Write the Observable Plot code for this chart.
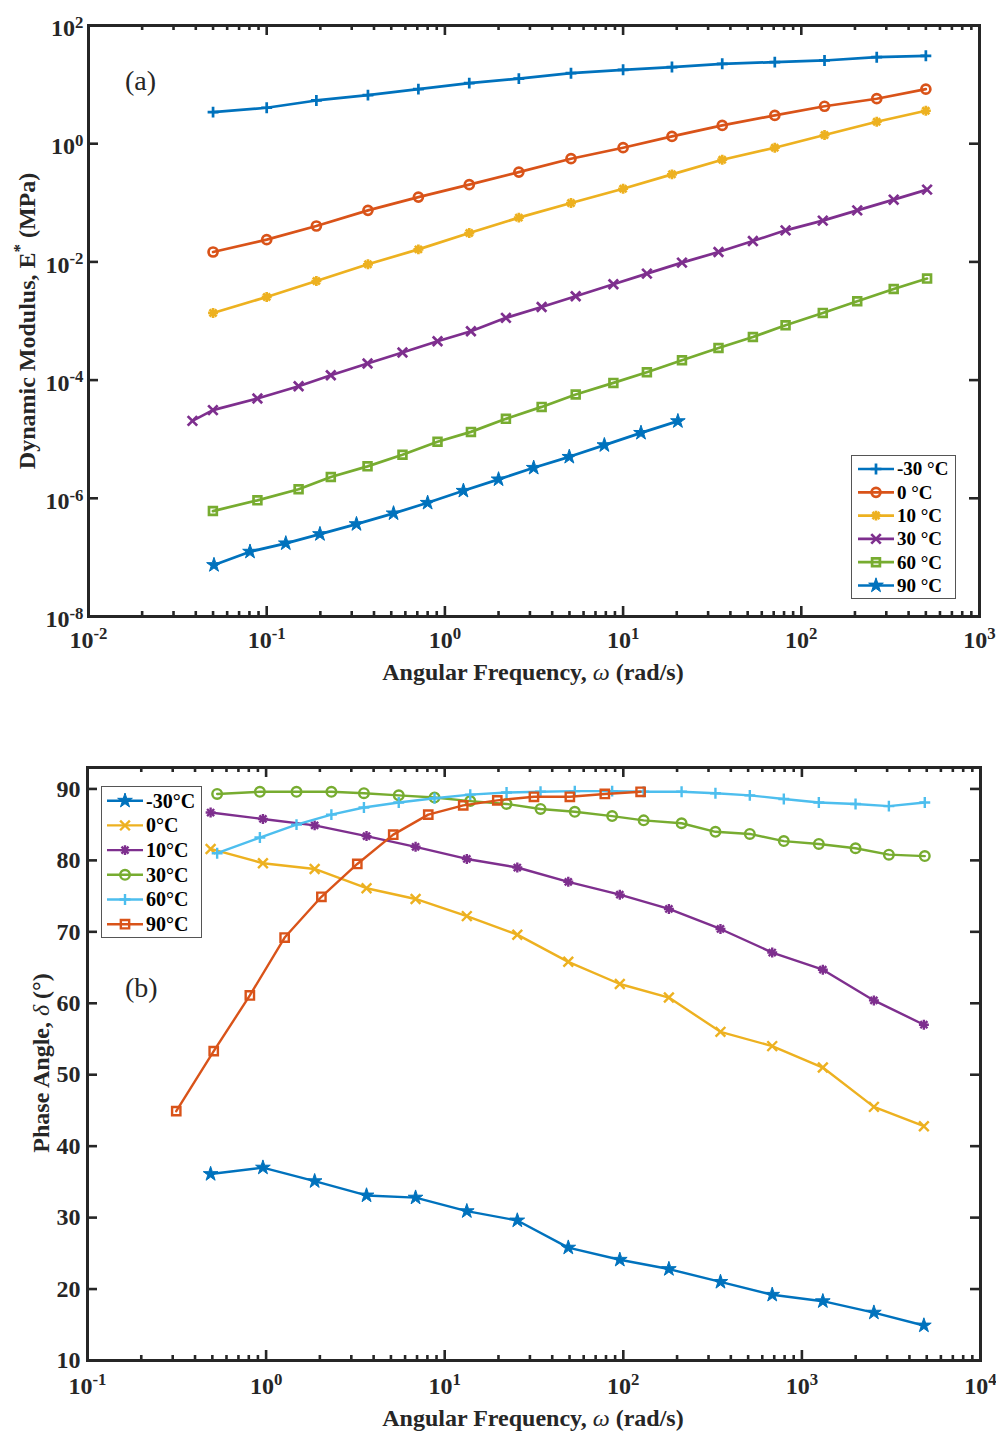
<!DOCTYPE html>
<html><head><meta charset="utf-8">
<script src="https://cdn.jsdelivr.net/npm/d3@7"></script>
<script src="https://cdn.jsdelivr.net/npm/@observablehq/plot@0.6"></script>
<style>
body{margin:0;background:#fff;}
#wrap{position:relative;width:996px;height:1437px;overflow:hidden;font-family:'Liberation Serif','Times New Roman',Times,serif;color:#262626;}
.title{position:absolute;font-weight:bold;font-size:24px;white-space:nowrap;transform:translate(-50%,-50%);}
.vtitle{position:absolute;font-weight:bold;font-size:24px;white-space:nowrap;transform:translate(-50%,-50%) rotate(-90deg);}
.title i,.vtitle i{font-weight:normal;}
.vtitle sup{font-size:70%;line-height:0;vertical-align:0.55em;}
.tag{position:absolute;font-size:28px;transform:translate(0,-50%);white-space:nowrap;}
</style></head><body><div id="wrap"></div>
<script>
// ---------- Panel (a): Dynamic modulus E* (MPa) vs angular frequency (rad/s)
const freqA = [0.05, 0.1, 0.19, 0.37, 0.71, 1.37, 2.6, 5.1, 10, 18.8, 36, 71, 135, 265, 500];
const modA_m30 = [3.42, 4.06, 5.39, 6.63, 8.38, 10.6, 12.6, 15.6, 17.8, 19.8, 22.5, 24.0, 25.6, 29.1, 30.7];
const modA_0 = [0.0147, 0.0238, 0.0405, 0.0745, 0.125, 0.203, 0.331, 0.557, 0.855, 1.33, 2.04, 3.01, 4.30, 5.77, 8.38];
const modA_10 = [0.00137, 0.00255, 0.00475, 0.0091, 0.0163, 0.0308, 0.0561, 0.099, 0.173, 0.303, 0.536, 0.855, 1.40, 2.35, 3.61];
const freqA_30 = [0.0383, 0.0499, 0.0887, 0.151, 0.229, 0.368, 0.578, 0.909, 1.40, 2.20, 3.49, 5.42, 8.82, 13.6, 21.4, 34.3, 53.5, 81.6, 132, 206, 330, 508];
const modA_30 = [2.04e-5, 3.10e-5, 4.89e-5, 7.89e-5, 1.21e-4, 1.91e-4, 2.93e-4, 4.55e-4, 6.71e-4, 1.13e-3, 1.73e-3, 2.62e-3, 4.18e-3, 6.34e-3, 9.73e-3, 0.0147, 0.0225, 0.0342, 0.0499, 0.0745, 0.113, 0.167];
const freqA_60 = [0.0499, 0.0887, 0.151, 0.229, 0.368, 0.578, 0.909, 1.40, 2.20, 3.49, 5.42, 8.82, 13.6, 21.4, 34.3, 53.5, 81.6, 132, 206, 330, 508];
const modA_60 = [6.08e-7, 9.23e-7, 1.42e-6, 2.29e-6, 3.47e-6, 5.45e-6, 9.03e-6, 1.33e-5, 2.21e-5, 3.52e-5, 5.71e-5, 8.97e-5, 1.36e-4, 2.17e-4, 3.50e-4, 5.37e-4, 8.47e-4, 1.37e-3, 2.16e-3, 3.48e-3, 5.22e-3];
const freqA_90 = [0.0506, 0.0806, 0.128, 0.199, 0.319, 0.515, 0.80, 1.27, 2.0, 3.15, 4.99, 7.85, 12.6, 20.3];
const modA_90 = [7.43e-8, 1.25e-7, 1.73e-7, 2.48e-7, 3.66e-7, 5.56e-7, 8.39e-7, 1.34e-6, 2.09e-6, 3.28e-6, 5.03e-6, 7.93e-6, 1.28e-5, 2.02e-5];
const labelsA = ["-30 °C", "0 °C", "10 °C", "30 °C", "60 °C", "90 °C"];
const xTicksA = [1e-2, 1e-1, 1e0, 1e1, 1e2, 1e3];
const yTicksA = [1e-8, 1e-6, 1e-4, 1e-2, 1e0, 1e2];

// ---------- Panel (b): Phase angle (deg) vs angular frequency (rad/s)
const freqB = [0.489, 0.96, 1.87, 3.65, 6.87, 13.3, 25.5, 49.2, 95.6, 180, 350, 682, 1310, 2530, 4820];
const phB_m30 = [36.1, 37.0, 35.1, 33.1, 32.8, 30.9, 29.6, 25.8, 24.1, 22.8, 21.0, 19.2, 18.3, 16.7, 14.9];
const phB_0 = [81.6, 79.6, 78.8, 76.1, 74.6, 72.2, 69.6, 65.8, 62.7, 60.8, 56.0, 54.0, 51.0, 45.5, 42.8];
const phB_10 = [86.7, 85.8, 84.9, 83.4, 81.9, 80.2, 79.0, 77.0, 75.2, 73.2, 70.4, 67.1, 64.7, 60.4, 57.0];
const freqB_30 = [0.532, 0.923, 1.48, 2.32, 3.53, 5.53, 8.77, 13.9, 22.2, 34.4, 53.5, 86.6, 130, 212, 328, 511, 792, 1244, 1997, 3069, 4876];
const phB_30 = [89.3, 89.6, 89.6, 89.6, 89.4, 89.1, 88.8, 88.3, 87.9, 87.2, 86.8, 86.2, 85.6, 85.2, 84.0, 83.7, 82.7, 82.3, 81.7, 80.8, 80.6];
const freqB_60 = [0.532, 0.923, 1.48, 2.32, 3.53, 5.53, 8.77, 13.9, 22.2, 34.4, 53.5, 86.6, 130, 212, 328, 511, 792, 1244, 1997, 3069, 4876];
const phB_60 = [81.0, 83.2, 85.0, 86.4, 87.4, 88.1, 88.7, 89.2, 89.5, 89.6, 89.7, 89.7, 89.6, 89.6, 89.4, 89.1, 88.6, 88.1, 87.9, 87.6, 88.1];
const freqB_90 = [0.314, 0.509, 0.811, 1.27, 2.04, 3.24, 5.15, 8.09, 12.7, 19.7, 31.6, 50.2, 78.8, 125];
const phB_90 = [44.9, 53.3, 61.1, 69.2, 74.9, 79.5, 83.6, 86.4, 87.7, 88.4, 88.9, 88.9, 89.3, 89.6];
const labelsB = ["-30°C", "0°C", "10°C", "30°C", "60°C", "90°C"];
const xTicksB = [1e-1, 1e0, 1e1, 1e2, 1e3, 1e4];
const yTicksB = [10, 20, 30, 40, 50, 60, 70, 80, 90];

// ---------- styling
const FONT = "'Liberation Serif','Times New Roman',Times,serif";
const INK = "#262626";
const COL = {blue: "#0072BD", orange: "#D95319", yellow: "#EDB120", purple: "#7E2F8E", green: "#77AC30", cyan: "#4DBEEE"};
const W = 996;

const seriesA = [
  {label: labelsA[0], x: freqA, y: modA_m30, color: COL.blue, sym: ["plus"], r: 3.6},
  {label: labelsA[1], x: freqA, y: modA_0, color: COL.orange, sym: ["circle"], r: 4.5},
  {label: labelsA[2], x: freqA, y: modA_10, color: COL.yellow, sym: ["plus", "times"], r: 3.3},
  {label: labelsA[3], x: freqA_30, y: modA_30, color: COL.purple, sym: ["times"], r: 4.4},
  {label: labelsA[4], x: freqA_60, y: modA_60, color: COL.green, sym: ["square"], r: 4.4},
  {label: labelsA[5], x: freqA_90, y: modA_90, color: COL.blue, sym: ["star"], r: 4.6, filled: true}
];
const seriesB = [
  {label: labelsB[0], x: freqB, y: phB_m30, color: COL.blue, sym: ["star"], r: 4.6, filled: true},
  {label: labelsB[1], x: freqB, y: phB_0, color: COL.yellow, sym: ["times"], r: 4.5},
  {label: labelsB[2], x: freqB, y: phB_10, color: COL.purple, sym: ["plus", "times"], r: 3.3},
  {label: labelsB[3], x: freqB_30, y: phB_30, color: COL.green, sym: ["circle"], r: 4.8},
  {label: labelsB[4], x: freqB_60, y: phB_60, color: COL.cyan, sym: ["plus"], r: 3.6},
  {label: labelsB[5], x: freqB_90, y: phB_90, color: COL.orange, sym: ["square"], r: 4.7}
];

function seriesMarks(s, sw) {
  const data = s.x.map((x, i) => ({x, y: s.y[i]}));
  const marks = [Plot.line(data, {x: "x", y: "y", stroke: s.color, strokeWidth: sw})];
  for (const sym of s.sym) {
    marks.push(Plot.dot(data, {
      x: "x", y: "y", symbol: sym, r: s.r, stroke: s.color,
      strokeWidth: s.filled ? 1 : sw, fill: s.filled ? s.color : "none"
    }));
  }
  return marks;
}

function minorLog(majors) {
  const out = [];
  for (let i = 0; i < majors.length - 1; i++) for (let m = 2; m < 10; m++) out.push(m * majors[i]);
  return out;
}

function frameTicks(xMajor, xMinor, yMajor, pw, ph) {
  const st = {stroke: INK, strokeWidth: 2.6};
  return [
    Plot.tickX(xMajor, {x: d => d, insetTop: ph - 10, ...st}),
    Plot.tickX(xMajor, {x: d => d, insetBottom: ph - 10, ...st}),
    Plot.tickX(xMinor, {x: d => d, insetTop: ph - 5, ...st}),
    Plot.tickX(xMinor, {x: d => d, insetBottom: ph - 5, ...st}),
    Plot.tickY(yMajor, {y: d => d, insetRight: pw - 10, ...st}),
    Plot.tickY(yMajor, {y: d => d, insetLeft: pw - 10, ...st})
  ];
}

const pow10 = d => "10^" + Math.round(Math.log10(d));

function supify(svg) {
  d3.select(svg).selectAll('g[aria-label$="tick label"] text').each(function () {
    const t = this.textContent;
    const m = t.match(/^10\^(.*)$/);
    if (m) {
      const sel = d3.select(this);
      sel.text(null);
      sel.append("tspan").text("10");
      sel.append("tspan").attr("dy", "-0.5em").attr("font-size", "0.7em").text(m[1]);
    }
  });
}

const ML = 88, MR = 17;
const pw = W - ML - MR;

// Panel (a)
const HA = 700, MTA = 25, MBA = 84;
const phA = HA - MTA - MBA;
const plotA = Plot.plot({
  width: W, height: HA, marginLeft: ML, marginRight: MR, marginTop: MTA, marginBottom: MBA,
  style: {fontFamily: FONT, fontSize: "24px", fontWeight: "bold", color: INK, background: "transparent", overflow: "visible"},
  x: {type: "log", domain: [1e-2, 1e3]},
  y: {type: "log", domain: [1e-8, 1e2]},
  marks: [
    ...seriesA.flatMap(s => seriesMarks(s, 2.7)),
    ...frameTicks(xTicksA, minorLog(xTicksA), yTicksA, pw, phA),
    Plot.axisX({ticks: xTicksA, tickSize: 0, tickPadding: 14, tickFormat: pow10, label: null}),
    Plot.axisY({ticks: yTicksA, tickSize: 0, tickPadding: 5, tickFormat: pow10, label: null, dy: 3}),
    Plot.frame({stroke: INK, strokeWidth: 3})
  ]
});
supify(plotA);

// Panel (b)
const HB = 737, MTB = 67, MBB = 77;
const phBh = HB - MTB - MBB;
const plotB = Plot.plot({
  width: W, height: HB, marginLeft: ML - 1, marginRight: MR - 1, marginTop: MTB, marginBottom: MBB,
  style: {fontFamily: FONT, fontSize: "24px", fontWeight: "bold", color: INK, background: "transparent", overflow: "visible"},
  x: {type: "log", domain: [1e-1, 1e4]},
  y: {type: "linear", domain: [10, 93]},
  marks: [
    ...seriesB.flatMap(s => seriesMarks(s, 2.4)),
    ...frameTicks(xTicksB, minorLog(xTicksB), yTicksB, pw + 2, phBh),
    Plot.axisX({ticks: xTicksB, tickSize: 0, tickPadding: 16, tickFormat: pow10, label: null}),
    Plot.axisY({ticks: yTicksB, tickSize: 0, tickPadding: 7, tickFormat: d => String(d), label: null}),
    Plot.frame({stroke: INK, strokeWidth: 3})
  ]
});
supify(plotB);

const wrap = document.getElementById("wrap");
plotA.style.position = "absolute"; plotA.style.left = "0px"; plotA.style.top = "0px";
plotB.style.position = "absolute"; plotB.style.left = "0px"; plotB.style.top = HA + "px";
wrap.appendChild(plotA);
wrap.appendChild(plotB);

// ---------- titles & panel tags (HTML text)
function addDiv(cls, html, left, top) {
  const d = document.createElement("div");
  d.className = cls; d.innerHTML = html;
  d.style.left = left + "px"; d.style.top = top + "px";
  wrap.appendChild(d);
}
addDiv("title", "Angular Frequency, <i>ω</i> (rad/s)", 533, 672);
addDiv("title", "Angular Frequency, <i>ω</i> (rad/s)", 533, 1418);
addDiv("vtitle", "Dynamic Modulus, E<sup>*</sup> (MPa)", 27, 321);
addDiv("vtitle", "Phase Angle, <i>δ</i> (°)", 41, 1063);
addDiv("tag", "(a)", 125, 81);
addDiv("tag", "(b)", 125, 988);

// ---------- legends (same d3 symbols as Plot uses)
const SYM = {plus: d3.symbolPlus, times: d3.symbolTimes, circle: d3.symbolCircle, square: d3.symbolSquare, star: d3.symbolStar};
function legend(items, o) {
  const svg = d3.create("svg").attr("width", o.width).attr("height", o.height)
    .style("position", "absolute").style("left", o.left + "px").style("top", o.top + "px");
  svg.append("rect").attr("x", 0.5).attr("y", 0.5).attr("width", o.width - 1).attr("height", o.height - 1)
    .attr("fill", "#fff").attr("stroke", "#555").attr("stroke-width", 1);
  items.forEach((s, i) => {
    const y = o.y0 + i * o.dy;
    const cx = (o.x0 + o.x1) / 2;
    svg.append("line").attr("x1", o.x0).attr("x2", o.x1).attr("y1", y).attr("y2", y)
      .attr("stroke", s.color).attr("stroke-width", o.sw);
    for (const sym of s.sym) {
      svg.append("path").attr("d", d3.symbol(SYM[sym], s.r * s.r * Math.PI)())
        .attr("transform", `translate(${cx},${y})`)
        .attr("fill", s.filled ? s.color : "none").attr("stroke", s.color)
        .attr("stroke-width", s.filled ? 1 : o.sw);
    }
    svg.append("text").attr("x", o.tx).attr("y", y).attr("dy", "0.34em")
      .attr("font-family", FONT).attr("font-weight", "bold").attr("font-size", o.fs)
      .attr("fill", "#000").text(s.label);
  });
  wrap.appendChild(svg.node());
}
legend(seriesA, {left: 851, top: 455, width: 105, height: 144, y0: 14, dy: 23.3, x0: 7, x1: 43, tx: 46, fs: 19, sw: 2.7});
legend(seriesB, {left: 101, top: 786, width: 101, height: 152, y0: 14.7, dy: 24.7, x0: 6, x1: 42, tx: 45, fs: 20, sw: 2.4});
</script></body></html>
